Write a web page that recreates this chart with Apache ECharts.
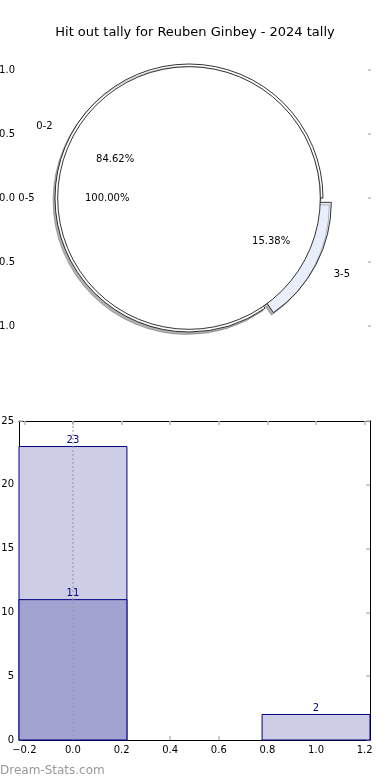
<!DOCTYPE html>
<html>
<head>
<meta charset="utf-8">
<script src="https://cdn.jsdelivr.net/npm/echarts@6/dist/echarts.min.js"></script>
<style>
html,body{margin:0;padding:0;background:#fff;}
#chart{width:390px;height:780px;}
</style>
</head>
<body>
<div id="chart"></div>
<script>
// ---- data ----
const titleText = 'Hit out tally for Reuben Ginbey - 2024 tally';
const outerNames = ['0-2', '3-5'];
const outerValues = [11, 2];
const innerNames = ['0-5'];
const innerValues = [13];
const barX = [0, 1];
const lightValues = [23, 2];
const darkX = [0];
const darkValues = [11];
const refLineX = [0];
const xTickValues = [-0.2, 0, 0.2, 0.4, 0.6, 0.8, 1.0, 1.2];

// ---- styles ----
const FONT = 'DejaVu Sans';
const R = 134;
const CX = 189, CY = 198;
const INNER_R = R * 0.98;
const EXPLODE = R * 0.07;
const BAR_W = 0.444;
const TICK_C = '#bbbbbb';
const NAVY = '#000080';
const outerColors = ['#ffffff', '#e8eefa'];

function fmtTick(v) {
  return (v < 0 ? '\u2212' : '') + Math.abs(v).toFixed(1);
}

const chart = echarts.init(document.getElementById('chart'), null, {renderer: 'canvas'});

function pieItems(names, values, colors, explodeIdx, transparent) {
  return names.map((n, i) => {
    const c = transparent ? 'rgba(0,0,0,0)' : colors[i];
    return {
      name: n,
      value: values[i],
      selected: i === explodeIdx,
      itemStyle: {color: c},
      select: {itemStyle: {color: c}}
    };
  });
}

const baseLabel = {fontFamily: FONT, fontSize: 10, color: '#000'};

function barRender(fill) {
  return function (params, api) {
    const x = api.value(0), v = api.value(1);
    const p0 = api.coord([x - BAR_W / 2, 0]);
    const p1 = api.coord([x + BAR_W / 2, v]);
    return {
      type: 'group',
      children: [
        {type: 'rect', shape: {x: p0[0], y: p1[1], width: p1[0] - p0[0], height: p0[1] - p1[1]},
         style: {fill: fill, stroke: NAVY, lineWidth: 1}},
        {type: 'text', z2: 10, style: {text: String(v), x: (p0[0] + p1[0]) / 2, y: p1[1] - 1,
         align: 'center', verticalAlign: 'bottom', fill: NAVY, font: '10px "' + FONT + '"'}}
      ]
    };
  };
}

const option = {
  animation: false,
  backgroundColor: '#fff',
  title: {
    text: titleText, left: 'center', top: 21,
    textStyle: {fontFamily: FONT, fontSize: 13, fontWeight: 'normal', color: '#000'}
  },
  graphic: [{
    type: 'text', left: 0, top: 765,
    style: {text: 'Dream-Stats.com', font: '12px "' + FONT + '"', fill: '#999'}
  }],
  grid: [
    {left: 20, right: 19, top: 70, height: 256, outerBoundsMode: 'none', containLabel: false},
    {left: 19, right: 20, top: 421, bottom: 40, outerBoundsMode: 'none', containLabel: false}
  ],
  xAxis: [
    {gridIndex: 0, type: 'value', min: -1, max: 1, show: false},
    {gridIndex: 1, type: 'value', min: -0.222, max: 1.222, position: 'bottom',
     axisLine: {show: true, lineStyle: {color: '#000', width: 1}},
     axisTick: {show: true, inside: true, length: 4, customValues: xTickValues, lineStyle: {color: TICK_C, width: 1.5}},
     axisLabel: {customValues: xTickValues, formatter: fmtTick, ...baseLabel, margin: 5},
     splitLine: {show: false}},
    {gridIndex: 1, type: 'value', min: -0.222, max: 1.222, position: 'top',
     axisLine: {show: true, onZero: false, lineStyle: {color: '#000', width: 1}},
     axisTick: {show: true, inside: true, length: 4, customValues: xTickValues, lineStyle: {color: TICK_C, width: 1.5}},
     axisLabel: {show: false}, splitLine: {show: false}}
  ],
  yAxis: [
    {gridIndex: 0, type: 'value', min: -1, max: 1, interval: 0.5, position: 'left',
     axisLine: {show: false},
     axisTick: {show: true, inside: true, length: 3, lineStyle: {color: TICK_C, width: 1.5}},
     axisLabel: {formatter: fmtTick, ...baseLabel, margin: 5},
     splitLine: {show: false}},
    {gridIndex: 0, type: 'value', min: -1, max: 1, interval: 0.5, position: 'right',
     axisLine: {show: false},
     axisTick: {show: true, inside: true, length: 3, lineStyle: {color: TICK_C, width: 1.5}},
     axisLabel: {show: false}, splitLine: {show: false}},
    {gridIndex: 1, type: 'value', min: 0, max: 25, interval: 5, position: 'left',
     axisLine: {show: true, onZero: false, lineStyle: {color: '#000', width: 1}},
     axisTick: {show: true, inside: true, length: 4, lineStyle: {color: TICK_C, width: 1.5}},
     axisLabel: {...baseLabel, margin: 5},
     splitLine: {show: false}},
    {gridIndex: 1, type: 'value', min: 0, max: 25, interval: 5, position: 'right',
     axisLine: {show: true, onZero: false, lineStyle: {color: '#000', width: 1}},
     axisTick: {show: true, inside: true, length: 4, lineStyle: {color: TICK_C, width: 1.5}},
     axisLabel: {show: false}, splitLine: {show: false}}
  ],
  series: [
    // outer ring with exploded slice
    {
      type: 'pie', center: [CX, CY], radius: [0, R], startAngle: 0, clockwise: false,
      selectedMode: 'single', selectedOffset: EXPLODE, avoidLabelOverlap: false,
      emphasis: {disabled: true}, z: 2,
      itemStyle: {borderColor: '#000', borderWidth: 0.8,
        shadowColor: 'rgba(0,0,0,0.3)', shadowBlur: 0, shadowOffsetX: -2, shadowOffsetY: 2.5},
      label: {position: 'outside', ...baseLabel, distanceToLabelLine: 0},
      labelLine: {show: false, length: 20, length2: 0},
      data: pieItems(outerNames, outerValues, outerColors, 1, false)
    },
    // outer percentages (label carrier)
    {
      type: 'pie', center: [CX, CY], radius: [0, R * 1.2], startAngle: 0, clockwise: false,
      selectedMode: 'single', selectedOffset: EXPLODE, avoidLabelOverlap: false, silent: true,
      emphasis: {disabled: true}, z: 5,
      itemStyle: {borderWidth: 0},
      label: {position: 'inside', ...baseLabel, formatter: p => p.percent.toFixed(2) + '%'},
      labelLine: {show: false},
      data: pieItems(outerNames, outerValues, outerColors, 1, true)
    },
    // inner pie
    {
      type: 'pie', center: [CX, CY], radius: [0, INNER_R], startAngle: 0, clockwise: false,
      avoidLabelOverlap: false, emphasis: {disabled: true}, z: 3,
      itemStyle: {color: '#fff', borderColor: '#000', borderWidth: 0.8},
      label: {position: 'outside', ...baseLabel, distanceToLabelLine: 0},
      labelLine: {show: false, length: 23, length2: 0},
      data: innerNames.map((n, i) => ({name: n, value: innerValues[i]}))
    },
    // inner percentages
    {
      type: 'pie', center: [CX, CY], radius: [0, INNER_R * 1.2], startAngle: 0, clockwise: false,
      avoidLabelOverlap: false, silent: true, emphasis: {disabled: true}, z: 5,
      itemStyle: {color: 'rgba(0,0,0,0)', borderWidth: 0},
      label: {position: 'inside', ...baseLabel, formatter: p => p.percent.toFixed(2) + '%'},
      labelLine: {show: false},
      data: innerNames.map((n, i) => ({name: n, value: innerValues[i]}))
    },
    // bars
    {
      type: 'custom', xAxisIndex: 1, yAxisIndex: 2, z: 2, clip: false,
      renderItem: barRender('#cdcde6'),
      data: barX.map((x, i) => [x, lightValues[i]])
    },
    {
      type: 'custom', xAxisIndex: 1, yAxisIndex: 2, z: 3, clip: false,
      renderItem: barRender('#a3a3d1'),
      data: darkX.map((x, i) => [x, darkValues[i]])
    },
    {
      type: 'line', xAxisIndex: 1, yAxisIndex: 2, z: 4, symbol: 'none', silent: true,
      lineStyle: {color: '#999', width: 1, type: [2, 2]},
      data: [[refLineX[0], 0], [refLineX[0], 25]]
    }
  ]
};
chart.setOption(option);
</script>
</body>
</html>
